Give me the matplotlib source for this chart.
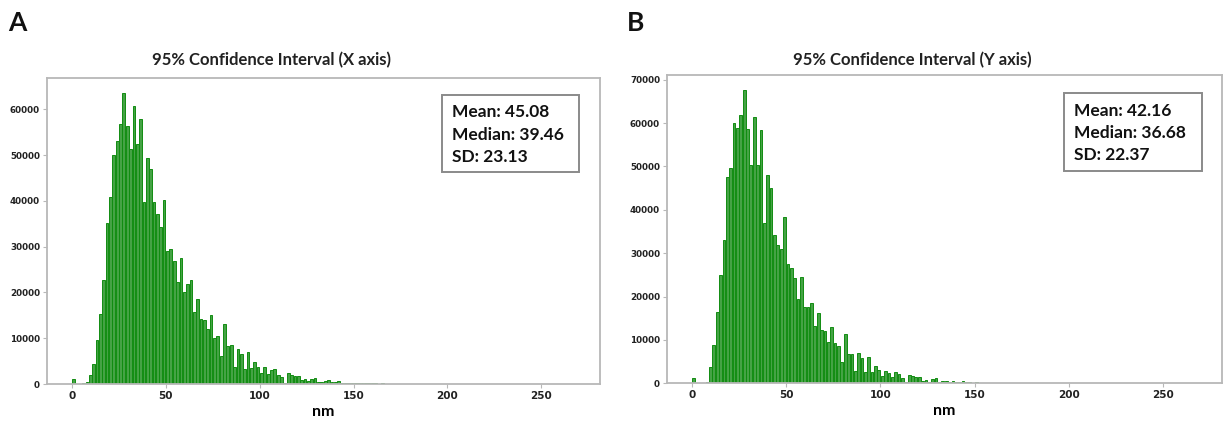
import numpy as np
import matplotlib
matplotlib.use("Agg")
import matplotlib.pyplot as plt
from matplotlib.patches import Rectangle

# histogram counts per bin (150 bins from 0 to 268 nm)
x_counts = [1100, 0, 0, 150, 500, 2000, 4300, 9600, 15300, 22800,
            35300, 40800, 50000, 53200, 56800, 63700, 56500, 51400, 60800, 52500,
            58000, 39800, 49300, 47000, 39800, 37200, 34300, 40200, 29000, 29600,
            26900, 22200, 27500, 20100, 21800, 22800, 15700, 18500, 14300, 14000,
            12000, 15100, 10000, 10500, 6200, 13100, 8200, 8600, 3700, 7600,
            6500, 3300, 7000, 3500, 4700, 3800, 2500, 3700, 2200, 3100,
            3300, 2000, 1450, 200, 2400, 2000, 1800, 1800, 950, 1150,
            600, 1100, 1300, 450, 450, 600, 800, 350, 350, 700,
            200, 200, 250, 150, 200, 180, 150, 140, 170, 120,
            110, 100, 110, 90, 80, 90, 70, 60, 60, 50]

y_counts = [1200, 0, 0, 100, 300, 3800, 8800, 16500, 25000, 33000,
            47500, 49700, 60000, 58800, 61900, 67700, 58600, 50400, 61500, 50400,
            58300, 36900, 48000, 45000, 34100, 31800, 30900, 38300, 27500, 26500,
            24200, 19400, 24600, 17700, 17700, 18500, 13100, 16100, 12200, 12100,
            9500, 13000, 9300, 8500, 4800, 11300, 6800, 6800, 2900, 7000,
            5800, 2700, 6000, 2500, 4000, 3100, 1700, 2900, 2300, 1400,
            2500, 2200, 1150, 400, 1900, 1700, 1500, 1500, 600, 770,
            400, 920, 1150, 400, 540, 600, 400, 600, 230, 400,
            600, 200, 200, 150, 200, 160, 140, 130, 150, 110,
            100, 90, 90, 80, 70, 60, 60, 50, 40, 40]

n_bins = 150
x_max = 268.0

titles = ["95% Confidence Interval (X axis)", "95% Confidence Interval (Y axis)"]
stats_x = ["Mean: 45.08", "Median: 39.46", "SD: 23.13"]
stats_y = ["Mean: 42.16", "Median: 36.68", "SD: 22.37"]
panel_labels = ["A", "B"]

W, H = 1225, 423
fig = plt.figure(figsize=(W / 100, H / 100), dpi=100)

edges = np.linspace(0, x_max, n_bins + 1)
centers = 0.5 * (edges[:-1] + edges[1:])


def pad(counts):
    out = np.zeros(n_bins)
    out[:len(counts)] = counts
    return out


def fx(px):
    return px / W


def fy(py):
    return 1 - py / H


def draw_panel(rect, counts, stats, title, title_x, label, label_x, box):
    ax = fig.add_axes([fx(rect[0]), fy(rect[3]),
                       (rect[2] - rect[0]) / W, (rect[3] - rect[1]) / H])
    ax.hist(centers, bins=edges, weights=pad(counts), rwidth=0.82,
            facecolor="#45a345", edgecolor="#118c11", linewidth=0.7)
    ax.set_xticks([0, 50, 100, 150, 200, 250])
    for s in ax.spines.values():
        s.set_color("#b8b8b8")
        s.set_linewidth(1.3)
    ax.tick_params(length=3, color="#b8b8b8", pad=2)
    for t in ax.get_yticklabels():
        t.set_fontsize(6.3)
        t.set_fontweight("bold")
        t.set_color("#222222")
    for t in ax.get_xticklabels():
        t.set_fontsize(7.5)
        t.set_fontweight("bold")
        t.set_color("#222222")
    ax.set_xlabel("nm", fontsize=11.5, fontweight="bold", family="Lato", labelpad=3)

    # stats box
    bx0, by0, bx1, by1 = box
    fig.patches.append(Rectangle((fx(bx0), fy(by1)), (bx1 - bx0) / W, (by1 - by0) / H,
                                 transform=fig.transFigure, fill=False,
                                 ec="#8a8a8a", lw=1.4, zorder=5))
    fig.text(fx(bx0 + 10.5), fy((by0 + by1) / 2 + 1), "\n".join(stats),
             ha="left", va="center", fontsize=12.5, fontweight="bold", family="Lato",
             linespacing=1.5, color="#111111")

    fig.text(fx(title_x), fy(60), title, ha="center", va="center",
             fontsize=12, fontweight="bold", family="Lato", color="#222222")
    fig.text(fx(label_x), fy(23), label, ha="left", va="center",
             fontsize=19, fontweight="bold", family="Lato", color="#111111")
    return ax


draw_panel((47, 78, 600, 384), x_counts, stats_x, titles[0], 271,
           panel_labels[0], 8, (442, 95, 579, 172))
draw_panel((667, 75, 1222, 383.3), y_counts, stats_y, titles[1], 912,
           panel_labels[1], 627, (1064, 93, 1202, 171))

fig.savefig("out.png", dpi=100)
